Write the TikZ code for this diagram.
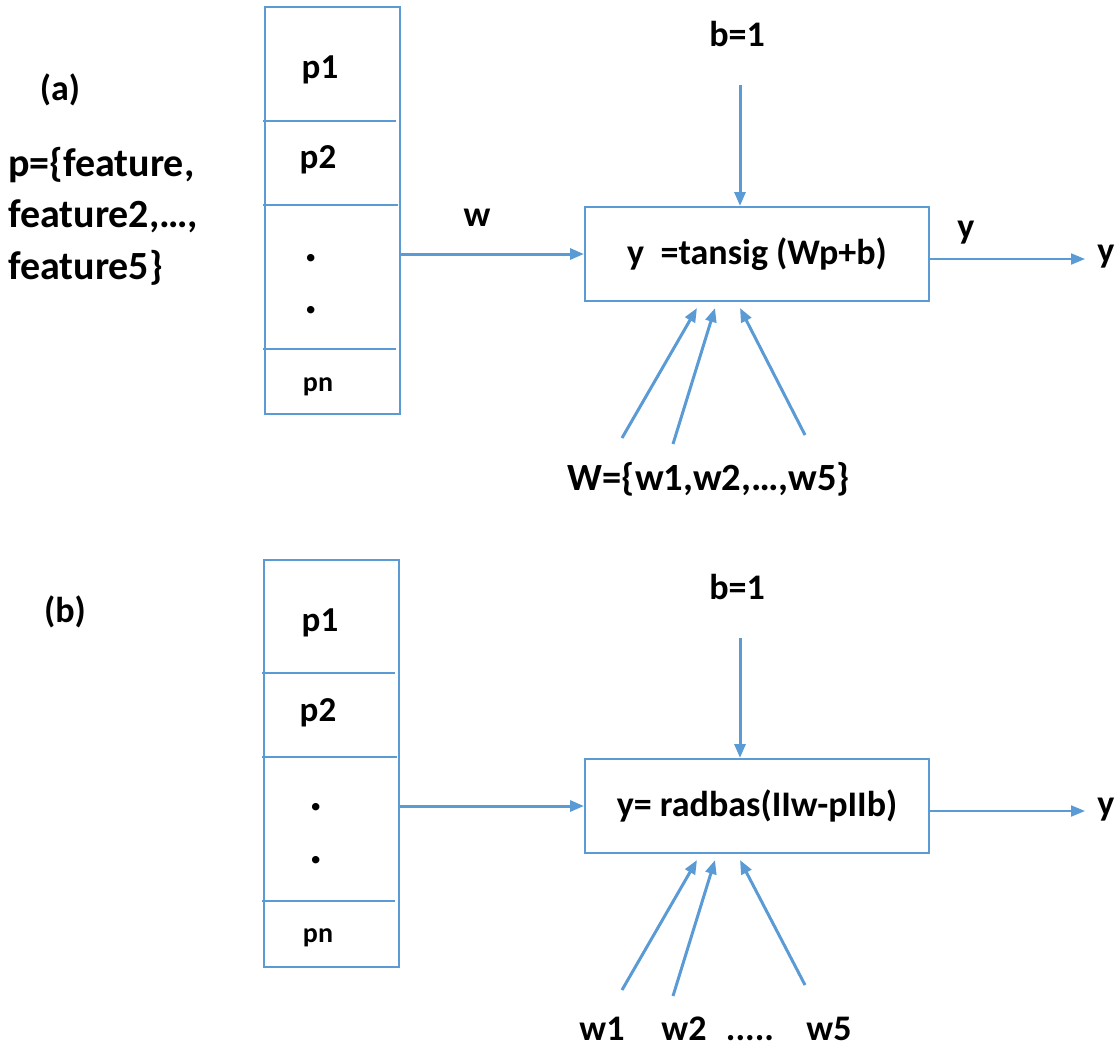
\documentclass[tikz,border=0pt]{standalone}
\usepackage{fontspec}
\setmainfont{Carlito}
\usetikzlibrary{arrows.meta}
\definecolor{lblue}{HTML}{5B9BD5}
\begin{document}
\begin{tikzpicture}[x=1pt,y=-1pt,
  every node/.style={font=\bfseries\fontsize{36}{40}\selectfont, inner sep=0pt},
  colbox/.style={draw=lblue, line width=2pt, minimum width=135pt, minimum height=407pt},
  funcbox/.style={draw=lblue, line width=2pt, minimum width=344pt, minimum height=94pt},
  divider/.style={draw=lblue, line width=1.5pt},
  inarr/.style={draw=lblue, line width=3pt, -{Triangle[length=14pt,width=11pt]}},
  outarr/.style={draw=lblue, line width=2pt, -{Triangle[length=14pt,width=11pt]}},
  small/.style={font=\bfseries\fontsize{28}{32}\selectfont},
  mid/.style={font=\bfseries\fontsize{35}{40}\selectfont},
  dotmark/.style={font=\bfseries\fontsize{50}{50}\selectfont},
  wide/.style={font=\bfseries\fontsize{38.5}{44}\selectfont}
]
\useasboundingbox (0,0) rectangle (1120,1053);

% ---------- (a) ----------
\node (la) at (60,90) {(a)};
\node[anchor=west, align=left, font=\bfseries\fontsize{40}{51.5}\selectfont] (pset) at (8,216)
  {p=\{feature,\\feature2,\dots,\\feature5\}};

\node[colbox] (colA) at (332.5,210.5) {};
\draw[divider] (263,121) -- (396,121);
\draw[divider] (263,205) -- (398,205);
\draw[divider] (263,349) -- (396,349);
\node[mid] (a1) at (320,70) {p1};
\node[mid] (a2) at (318,160) {p2};
\node[dotmark] (ad1) at (311,258) {.};
\node[dotmark] (ad2) at (311,310) {.};
\node[small] (an) at (318,387) {pn};

\node[funcbox] (funcA) at (757,254) {y\ \ =tansig (Wp+b)};
\node (bA) at (737,34) {b=1};
\coordinate (bAs) at (740,85);
\draw[inarr] (bAs) -- (funcA.north -| bAs);

\draw[inarr] (colA.east |- funcA.west) -- (funcA.west);
\node (wlab) at (477,218) {w};

\coordinate (yAend) at (1085,259);
\draw[outarr] (funcA.east |- yAend) -- (yAend);
\node (yA1) at (966,233) {y};
\node (yA2) at (1106,257) {y};

\node[wide] (WA) at (709,479) {W=\{w1,w2,\dots,w5\}};
\coordinate (ta1) at (622,438);
\coordinate (ta2) at (673,444);
\coordinate (ta3) at (805,435);
\draw[inarr] (ta1) -- ([xshift=-60pt,yshift=-6pt]funcA.south);
\draw[inarr] (ta2) -- ([xshift=-42pt,yshift=-6pt]funcA.south);
\draw[inarr] (ta3) -- ([xshift=-17pt,yshift=-6pt]funcA.south);

% ---------- (b) ----------
\node (lb) at (65,612) {(b)};

\node[colbox] (colB) at (331.5,763) {};
\draw[divider] (262,673) -- (395,673);
\draw[divider] (262,757) -- (397,757);
\draw[divider] (262,901) -- (395,901);
\node[mid] (b1) at (320,623) {p1};
\node[mid] (b2) at (318,713) {p2};
\node[dotmark] (bd1) at (316,807) {.};
\node[dotmark] (bd2) at (316,860) {.};
\node[small] (bn) at (318,938) {pn};

\node[funcbox] (funcB) at (757,806) {y= radbas(IIw-pIIb)};
\node (bB) at (737,587) {b=1};
\coordinate (bBs) at (740,638);
\draw[inarr] (bBs) -- (funcB.north -| bBs);

\draw[inarr] (colB.east |- funcB.west) -- (funcB.west);

\coordinate (yBend) at (1085,811);
\draw[outarr] (funcB.east |- yBend) -- (yBend);
\node (yB2) at (1106,810) {y};

\coordinate (tb1) at (622,990);
\coordinate (tb2) at (673,996);
\coordinate (tb3) at (805,985);
\draw[inarr] (tb1) -- ([xshift=-60pt,yshift=-6pt]funcB.south);
\draw[inarr] (tb2) -- ([xshift=-42pt,yshift=-6pt]funcB.south);
\draw[inarr] (tb3) -- ([xshift=-17pt,yshift=-6pt]funcB.south);
\node[anchor=base] (w1) at (602,1040) {w1};
\node[anchor=base] (w2) at (684,1040) {w2};
\node[anchor=base] (wd) at (750,1040) {.....};
\node[anchor=base] (w5) at (829,1040) {w5};
\end{tikzpicture}
\end{document}
